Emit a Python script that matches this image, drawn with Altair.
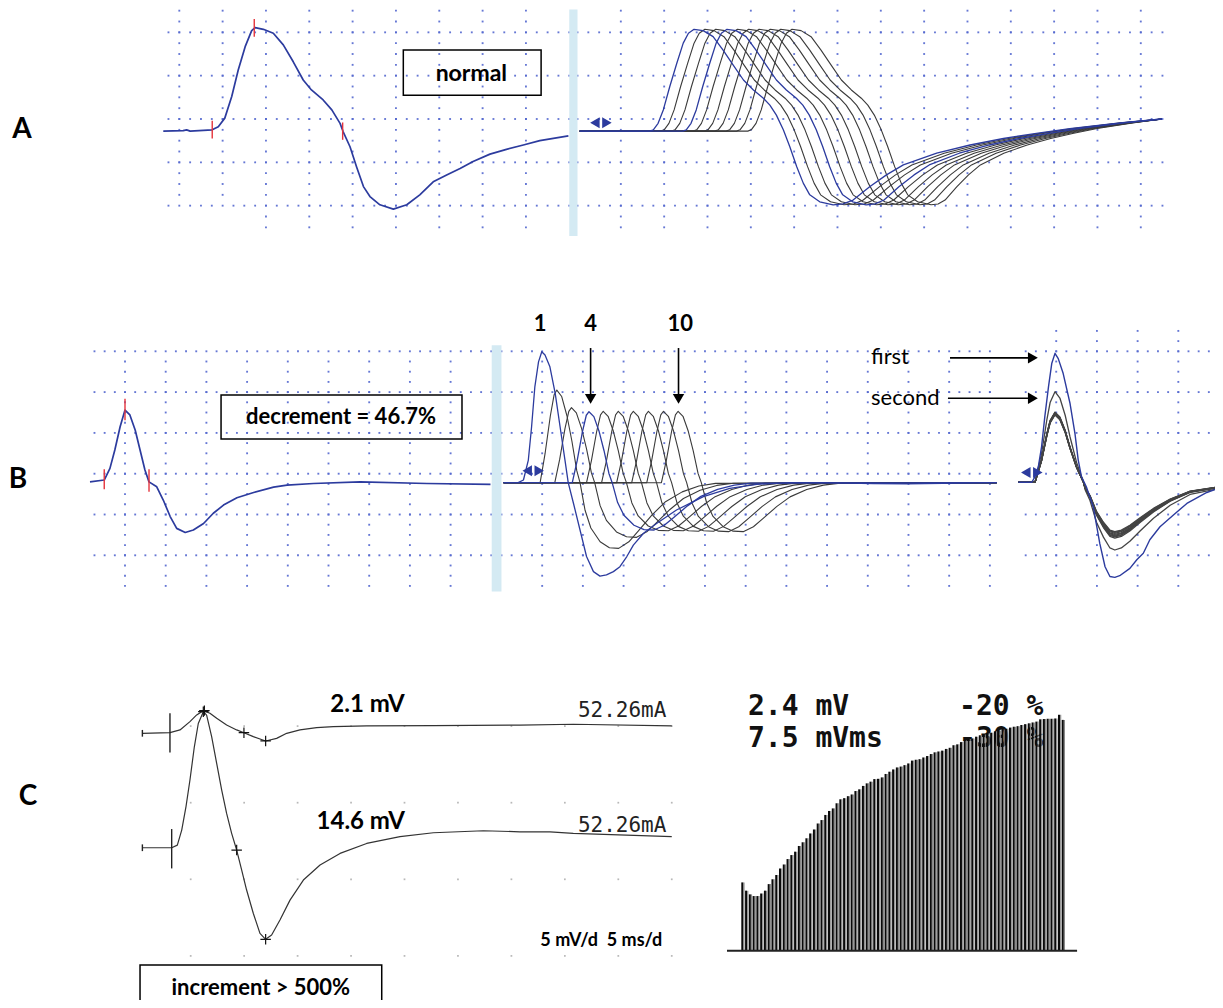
import altair as alt
import numpy as np
import pandas as pd

# ------------------------------------------------------------------
# DATA
# Panels A and B: units are grid divisions (x from the first grid column,
# y from a reference grid row, up = positive).
# Panel C traces: ms and mV (5 ms/div, 5 mV/div); bar train: stimulus no. and mV.
# ------------------------------------------------------------------

# Panel A, "normal" single response (blue)
A_normal_x = [-0.37, 0.09, 0.17, 0.25, 0.76, 0.90, 1.05, 1.21, 1.36, 1.52, 1.67, 1.75, 1.94,
              2.17, 2.40, 2.63, 2.86, 3.05, 3.32, 3.52, 3.71, 3.78, 3.94, 4.09, 4.25, 4.40,
              4.63, 4.94, 5.25, 5.55, 5.86, 6.17, 6.48, 6.78, 7.17, 7.55, 7.94, 8.32, 8.98]
A_normal_y = [-0.28, -0.27, -0.25, -0.28, -0.25, -0.18, 0.02, 0.52, 1.13, 1.67, 2.04, 2.11, 2.07,
              1.98, 1.71, 1.32, 0.90, 0.67, 0.44, 0.21, -0.10, -0.29, -0.64, -1.10, -1.56, -1.79,
              -1.98, -2.08, -1.98, -1.75, -1.45, -1.29, -1.14, -0.98, -0.81, -0.70, -0.60, -0.50, -0.39]
A_ticks_x = [0.76, 1.73, 3.77]
A_ticks_y = [-0.04, 2.31, -0.08]
A_ticks_y2 = [-0.45, 1.90, -0.48]

# Panel A, train of 10 responses (first response shape + latency of each)
A_train_x = [9.24, 10.86, 10.94, 11.05, 11.17, 11.32, 11.48, 11.63, 11.75, 11.88, 12.09, 12.32,
             12.55, 12.78, 13.02, 13.25, 13.48, 13.63, 13.78, 13.94, 14.09, 14.25, 14.40, 14.55,
             14.78, 15.09, 15.32, 15.55, 15.94, 16.32, 16.71, 17.48, 18.25, 19.02, 19.78, 20.55,
             21.71, 22.68]
A_train_y = [-0.28, -0.28, -0.25, -0.10, 0.21, 0.75, 1.28, 1.75, 1.98, 2.07, 2.04, 1.90,
             1.59, 1.25, 0.90, 0.67, 0.48, 0.32, 0.09, -0.25, -0.64, -1.10, -1.48, -1.75,
             -1.91, -1.98, -1.96, -1.87, -1.56, -1.29, -1.06, -0.79, -0.60, -0.45, -0.33, -0.22,
             -0.09, 0.0]
A_train_latency = [0.0, 0.25, 0.50, 0.76, 1.00, 1.26, 1.50, 1.76, 2.00, 2.26]
A_train_trough = 15.09
A_train_end = 22.68
A_train_blue = [0, 3]

# Panel B, single response (blue)
B_single_x = [-0.86, -0.51, -0.37, -0.25, -0.12, 0.0, 0.12, 0.25, 0.37, 0.49, 0.59, 0.78, 0.94,
              1.11, 1.27, 1.48, 1.68, 1.93, 2.17, 2.42, 2.75, 3.16, 3.65, 3.98, 4.63, 5.78, 7.42, 8.98]
B_single_y = [-0.20, -0.155, 0.13, 0.58, 1.15, 1.56, 1.44, 1.07, 0.58, 0.09, -0.20, -0.32, -0.645,
              -1.05, -1.34, -1.44, -1.38, -1.22, -0.97, -0.77, -0.59, -0.46, -0.33, -0.28, -0.24,
              -0.20, -0.24, -0.26]
B_ticks_x = [-0.51, 0.0, 0.59]
B_ticks_y = [0.11, 1.84, 0.11]
B_ticks_y2 = [-0.38, 1.31, -0.44]

# Panel B, decrementing train: response 1 (blue) ...
B_first_x = [9.30, 9.66, 9.79, 9.91, 9.99, 10.07, 10.16, 10.24, 10.32, 10.44, 10.57, 10.69, 10.81,
             10.89, 11.02, 11.18, 11.34, 11.51, 11.67, 11.83, 12.00, 12.16, 12.33, 12.49, 12.74,
             13.06, 13.55, 14.21, 14.86, 15.52, 16.34, 17.16, 18.39, 19.21, 21.42]
B_first_y = [-0.22, -0.22, -0.155, 0.335, 1.15, 2.13, 2.74, 2.99, 2.91, 2.62, 1.97, 1.15, 0.335,
             -0.22, -0.73, -1.38, -2.03, -2.40, -2.51, -2.48, -2.40, -2.28, -2.03, -1.75, -1.46,
             -1.22, -0.89, -0.56, -0.36, -0.26, -0.22, -0.22, -0.24, -0.25, -0.22]
# ... responses 2-10: peak position, peak height, trough delay and trough depth
B_peak_x = [10.61, 10.97, 11.40, 11.75, 12.12, 12.49, 12.86, 13.23, 13.59]
B_peak_amp = [2.27, 1.84, 1.74, 1.75, 1.75, 1.75, 1.75, 1.75, 1.75]
B_trough_dx = [1.52, 1.60, 1.60, 1.60, 1.60, 1.60, 1.60, 1.60, 1.60]
B_trough_depth = [1.61, 1.34, 1.16, 1.18, 1.18, 1.19, 1.19, 1.20, 1.20]
B_blue = [2]  # response 4
B_base = -0.22
# shape of a response (read from response 10)
B_rise_dx = [-0.41, -0.29, -0.16, -0.066, 0.0]
B_rise_f = [0.0, 0.31, 0.72, 0.95, 1.0]
B_fall_dx = [0.12, 0.25, 0.37, 0.49, 0.57]
B_fall_f = [0.93, 0.72, 0.45, 0.13, 0.0]
B_neg_u = [0.13, 0.28, 0.52, 0.76, 1.0]
B_neg_f = [0.42, 0.69, 0.90, 0.99, 1.0]
B_post_dx = [0.25, 0.49, 0.82, 1.15, 1.56, 1.97, 2.38]
B_post_f = [0.90, 0.73, 0.49, 0.29, 0.14, 0.05, 0.01]

# Panel B, superimposed responses: first (blue) and the others
B_sup_first_x = [21.95, 22.28, 22.36, 22.44, 22.52, 22.60, 22.69, 22.77, 22.85, 22.93, 23.05,
                 23.22, 23.34, 23.42, 23.50, 23.62, 23.79, 23.95, 24.08, 24.20, 24.32, 24.44,
                 24.69, 24.86, 25.02, 25.18, 25.43, 25.76, 26.09, 26.58, 26.98]
B_sup_first_y = [-0.21, -0.21, -0.07, 0.17, 0.66, 1.40, 2.13, 2.70, 2.95, 2.82, 2.46,
                 1.72, 0.99, 0.34, -0.07, -0.32, -0.81, -1.71, -2.28, -2.52, -2.54, -2.50,
                 -2.32, -2.11, -1.95, -1.62, -1.30, -1.01, -0.73, -0.46, -0.32]
B_sup_x = [21.95, 22.36, 22.40, 22.52, 22.65, 22.73, 22.85, 22.97, 23.10, 23.22, 23.38, 23.55,
           23.59, 23.71, 23.87, 24.04, 24.20, 24.32, 24.48, 24.69, 24.94, 25.27, 25.68, 26.17, 26.98]
B_sup_f = [0, 0, 0.08, 0.32, 0.69, 0.88, 1.0, 0.93, 0.74, 0.50, 0.22, 0.0,
           -0.11, -0.27, -0.59, -0.81, -0.97, -1.0, -0.97, -0.87, -0.72, -0.53, -0.34, -0.18, -0.08]
B_sup_amp = [2.22, 1.72, 1.71, 1.70, 1.69, 1.68, 1.67, 1.66, 1.65]
B_sup_depth = [1.66, 1.37, 1.34, 1.32, 1.30, 1.28, 1.25, 1.23, 1.21]
B_sup_base = -0.21

# Panel C, two responses (ms, mV relative to each trace's baseline)
C_low_t = [0.48, 3.06, 4.00, 4.93, 5.56, 6.18, 6.80, 7.43, 8.36, 9.30, 9.98, 10.86, 12.01,
           13.04, 13.98, 15.22, 16.78, 18.34, 21.46, 27.70, 35.80, 40.79, 50.0]
C_low_v = [0, 0.04, 0.22, 0.76, 1.20, 1.48, 1.31, 0.98, 0.54, 0.22, 0.04, -0.22, -0.50,
           -0.33, 0, 0.22, 0.37, 0.44, 0.48, 0.50, 0.54, 0.59, 0.48]
C_high_t = [0.48, 3.22, 3.75, 4.16, 4.56, 4.93, 5.34, 5.71, 6.18, 6.49, 6.96, 7.43, 7.90, 8.36,
            8.83, 9.30, 9.77, 10.23, 10.86, 11.48, 12.01, 12.57, 13.35, 14.29, 15.54, 17.10,
            18.97, 21.46, 24.58, 27.70, 32.38, 35.80, 38.61, 40.79, 50.0]
C_high_v = [0, 0, 0.17, 1.15, 2.68, 4.42, 6.59, 8.11, 8.88, 8.66, 7.25, 5.50, 3.76, 2.24,
            0.94, -0.15, -1.46, -2.76, -4.29, -5.59, -5.98, -5.70, -4.72, -3.42, -2.11, -1.13,
            -0.37, 0.28, 0.72, 0.98, 1.11, 1.04, 1.04, 0.94, 0.72]
C_low_stim_t, C_high_stim_t = 3.06, 3.22
C_low_marks_t = [6.28, 9.98, 12.01]
C_low_marks_v = [1.48, 0.04, -0.50]
C_high_marks_t = [6.18, 9.30, 12.01]
C_high_marks_v = [8.88, -0.15, -5.98]

# Panel C, amplitude of each response of the train (mV)
C_train_mv = [2.40, 2.11, 1.98, 1.92, 1.92, 2.01, 2.11, 2.34, 2.51, 2.66, 2.89, 3.03, 3.22, 3.36,
              3.48, 3.68, 3.81, 3.95, 4.12, 4.26, 4.47, 4.59, 4.77, 4.91, 5.00, 5.18, 5.32, 5.36,
              5.43, 5.49, 5.61, 5.67, 5.79, 5.88, 5.94, 6.03, 6.04, 6.09, 6.21, 6.29, 6.37, 6.44,
              6.47, 6.52, 6.58, 6.68, 6.71, 6.73, 6.79, 6.84, 6.91, 6.97, 7.00, 7.03, 7.09, 7.13,
              7.22, 7.25, 7.33, 7.39, 7.44, 7.46, 7.52, 7.57, 7.60, 7.64, 7.66, 7.71, 7.74, 7.77,
              7.80, 7.84, 7.87, 7.89, 7.93, 7.96, 7.99, 8.02, 8.05, 8.13, 8.14, 8.15, 8.15, 8.16,
              8.29, 8.11]

# ------------------------------------------------------------------
# LAYOUT / STYLE
# ------------------------------------------------------------------
W, H = 1207, 992
PAGE_L, PAGE_T = 8, 8
# panel placement: page pixel of the unit origin and pixels per unit
GEOM = {
    "A": dict(x0=179.3, sx=43.33, y0=119.0, sy=43.33),
    "B": dict(x0=125.0, sx=40.7, y0=473.7, sy=40.8),
    "C": dict(x0=137.25, sx=10.69, y0=802.7, sy=15.32),
    "D": dict(x0=742.3, sx=3.77, y0=950.7, sy=28.46),
}
C_low_offset, C_high_offset = 4.53, -2.94

SANS = "Lato"
MONO = "DejaVu Sans Mono"
BLUE = "#2c3b9e"
GRAY = "#3a3a3a"
DOT = "#5468cf"
RED = "#e5343c"
LIGHT = "#d4eaf3"


def scales(p):
    g = GEOM[p]
    xd = [(PAGE_L - g["x0"]) / g["sx"], (PAGE_L + W - g["x0"]) / g["sx"]]
    yd = [(g["y0"] - (PAGE_T + H)) / g["sy"], (g["y0"] - PAGE_T) / g["sy"]]
    return (alt.Scale(domain=xd, nice=False, zero=False),
            alt.Scale(domain=yd, nice=False, zero=False))


layers = []


def add(p, df, mk, **extra):
    xs, ys = scales(p)
    enc = dict(x=alt.X("x:Q", scale=xs, axis=None), y=alt.Y("y:Q", scale=ys, axis=None))
    enc.update(extra)
    layers.append(mk(alt.Chart(df)).encode(**enc))


def lines_df(traces):
    rows = []
    for tid, (xs, ys) in enumerate(traces):
        for i, (x, y) in enumerate(zip(xs, ys)):
            rows.append(dict(x=x, y=y, tid=tid, i=i))
    return pd.DataFrame(rows)


def add_lines(p, traces, color, width):
    add(p, lines_df(traces), lambda c: c.mark_line(color=color, strokeWidth=width,
                                                   strokeJoin="round"),
        detail="tid:N", order="i:Q")


def grid_df(row_specs, col_specs, step=0.25):
    pts = []
    for r, a, b in row_specs:
        for x in np.arange(a, b + 1e-6, step):
            pts.append((x, r))
    for c, a, b in col_specs:
        for y in np.arange(b, a + 1e-6, step):
            pts.append((c, y))
    return pd.DataFrame(pts, columns=["x", "y"])


# ---------------- grids ----------------
gA_rows = [(r, -0.25, 9.0) for r in [2, 1, 0, -1, -2]] + \
          [(r, 9.19, 22.69) for r in [2, 1, 0, -1, -2]]
gA_cols = [(c, 2.5, -1.75 if c < 2 else -2.5) for c in range(9)] + \
          [(10.19 + k, 2.5, -2.5) for k in range(13)]
add("A", grid_df(gA_rows, gA_cols), lambda c: c.mark_square(size=3.5, color=DOT, opacity=0.9))

gB_rows = [(r, -0.75, 9.0) for r in [3, 2, 1, 0, -1, -2]] + \
          [(r, 9.25, 21.25) for r in [3, 2, 1, 0, -1, -2]] + \
          [(r, 22.13, 27.13) for r in [3, 2, 1, 0, -1, -2]]
gB_cols = [(c, 2.75, -2.75) for c in range(9)] + \
          [(10.25 + k, 2.75, -2.75) for k in range(12)] + \
          [(22.88 + k, 3.5, -2.75) for k in range(5)]
add("B", grid_df(gB_rows, gB_cols), lambda c: c.mark_square(size=3.5, color=DOT, opacity=0.9))

gC = pd.DataFrame([(t, v) for t in range(5, 51, 5) for v in [5, 0, -5, -10]], columns=["x", "y"])
add("C", gC, lambda c: c.mark_square(size=3, color="#9a9a9a"))

# ---------------- separating bars ----------------
add("A", pd.DataFrame(dict(x=[9.0], x2=[9.19], y=[2.53], y2=[-2.70])),
    lambda c: c.mark_rect(color=LIGHT), x2="x2:Q", y2="y2:Q")
add("B", pd.DataFrame(dict(x=[9.01], x2=[9.25], y=[3.15], y2=[-2.89])),
    lambda c: c.mark_rect(color=LIGHT), x2="x2:Q", y2="y2:Q")

# ---------------- panel A traces ----------------
add_lines("A", [(A_normal_x, A_normal_y)], BLUE, 1.7)


def train_A(k):
    lat = A_train_latency[k]
    xs = []
    for j, x in enumerate(A_train_x):
        if j == 0:
            xs.append(x)
        elif x <= A_train_trough:
            xs.append(x + lat)
        else:
            xs.append(x + lat * (A_train_end - x) / (A_train_end - A_train_trough))
    return xs, A_train_y


add_lines("A", [train_A(k) for k in range(10) if k not in A_train_blue], GRAY, 1.1)
add_lines("A", [train_A(k) for k in A_train_blue], BLUE, 1.3)

add("A", pd.DataFrame(dict(x=A_ticks_x, y=A_ticks_y, y2=A_ticks_y2)),
    lambda c: c.mark_rule(color=RED, strokeWidth=1.4), y2="y2:Q")

# ---------------- panel B traces ----------------
add_lines("B", [(B_single_x, B_single_y)], BLUE, 1.7)


def train_B(k):
    pk, amp, T, dep = B_peak_x[k], B_peak_amp[k], B_trough_dx[k], B_trough_depth[k]
    pts = [(B_first_x[0], B_base)]
    for dx, f in zip(B_rise_dx + B_fall_dx, B_rise_f + B_fall_f):
        pts.append((pk + dx, B_base + amp * f))
    cross = pk + B_fall_dx[-1]
    for u, f in zip(B_neg_u, B_neg_f):
        pts.append((cross + u * (pk + T - cross), B_base - dep * f))
    for dx, f in zip(B_post_dx, B_post_f):
        pts.append((pk + T + dx, B_base - dep * f))
    pts.append((B_first_x[-1], B_base))
    return [p[0] for p in pts], [p[1] for p in pts]


def sup_B(k):
    a, d = B_sup_amp[k], B_sup_depth[k]
    return B_sup_x, [B_sup_base + (f * a if f > 0 else f * d) for f in B_sup_f]


add_lines("B", [train_B(k) for k in range(9) if k not in B_blue], GRAY, 1.1)
add_lines("B", [(B_first_x, B_first_y)] + [train_B(k) for k in B_blue], BLUE, 1.3)
add_lines("B", [sup_B(k) for k in range(9)], "#444444", 1.3)
add_lines("B", [(B_sup_first_x, B_sup_first_y)], BLUE, 1.4)

add("B", pd.DataFrame(dict(x=B_ticks_x, y=B_ticks_y, y2=B_ticks_y2)),
    lambda c: c.mark_rule(color=RED, strokeWidth=1.4), y2="y2:Q")

# double-arrow cursors
for p, cx, cy in [("A", 9.73, -0.085), ("B", 10.03, 0.07), ("B", 22.28, 0.03)]:
    d = pd.DataFrame(dict(x=[cx], y=[cy]))
    add(p, d, lambda c: c.mark_point(shape="triangle-left", size=120, filled=True,
                                     color=BLUE, opacity=1, xOffset=-6))
    add(p, d, lambda c: c.mark_point(shape="triangle-right", size=120, filled=True,
                                     color=BLUE, opacity=1, xOffset=6))

# ---------------- boxes ----------------
boxA = pd.DataFrame(dict(x=[5.17], x2=[8.35], y=[1.59], y2=[0.55]))
add("A", boxA, lambda c: c.mark_rect(fillOpacity=0, stroke="black", strokeWidth=1.5),
    x2="x2:Q", y2="y2:Q")
boxB = pd.DataFrame(dict(x=[2.36], x2=[8.28], y=[1.93], y2=[0.85]))
add("B", boxB, lambda c: c.mark_rect(fillOpacity=0, stroke="black", strokeWidth=1.5),
    x2="x2:Q", y2="y2:Q")
boxC = pd.DataFrame(dict(x=[0.26], x2=[22.87], y=[-10.59], y2=[-13.8]))
add("C", boxC, lambda c: c.mark_rect(fillOpacity=0, stroke="black", strokeWidth=1.5),
    x2="x2:Q", y2="y2:Q")

# ---------------- arrows in panel B ----------------
add("B", pd.DataFrame(dict(x=[11.44, 13.60], y=[3.08, 3.08], y2=[1.9, 1.9])),
    lambda c: c.mark_rule(color="black", strokeWidth=1.6), y2="y2:Q")
add("B", pd.DataFrame(dict(x=[11.44, 13.60], y=[1.71, 1.71])),
    lambda c: c.mark_point(shape="triangle-down", size=130, filled=True, color="black",
                           opacity=1, yOffset=-5))
add("B", pd.DataFrame(dict(x=[20.27, 20.22], x2=[22.2, 22.2], y=[2.84, 1.85])),
    lambda c: c.mark_rule(color="black", strokeWidth=1.6), x2="x2:Q")
add("B", pd.DataFrame(dict(x=[22.43, 22.43], y=[2.84, 1.85])),
    lambda c: c.mark_point(shape="triangle-right", size=130, filled=True, color="black",
                           opacity=1, xOffset=-5))

# ---------------- panel C traces ----------------
add_lines("C", [(C_low_t, [v + C_low_offset for v in C_low_v]),
                (C_high_t, [v + C_high_offset for v in C_high_v])], "#333333", 1.2)
stim = pd.DataFrame(dict(x=[C_low_stim_t, C_high_stim_t, C_low_t[0], C_high_t[0]],
                         y=[C_low_offset + 1.31, C_high_offset + 1.22,
                            C_low_offset + 0.22, C_high_offset + 0.22],
                         y2=[C_low_offset - 1.26, C_high_offset - 1.35,
                             C_low_offset - 0.22, C_high_offset - 0.22]))
add("C", stim, lambda c: c.mark_rule(color="#222222", strokeWidth=1.4), y2="y2:Q")
crosses = pd.DataFrame(dict(x=C_low_marks_t + C_high_marks_t,
                            y=[v + C_low_offset for v in C_low_marks_v] +
                              [v + C_high_offset for v in C_high_marks_v]))
add("C", crosses, lambda c: c.mark_point(shape="M-1,0L1,0M0,-1L0,1", size=110, filled=False,
                                         color="#111111", strokeWidth=1.2, opacity=1))

# ---------------- texts ----------------
def add_text(p, items, **style):
    df = pd.DataFrame(items, columns=["x", "y", "t"])
    add(p, df, lambda c: c.mark_text(baseline="middle", **style), text="t:N")


NB = "\u00a0"
add_text("A", [(-3.63, -0.25, "A")], font=SANS, fontSize=28, fontWeight="bold", align="center")
add_text("A", [(6.74, 1.05, "normal")], font=SANS, fontSize=23, fontWeight="bold", align="center")
add_text("B", [(-2.63, -0.15, "B")], font=SANS, fontSize=28, fontWeight="bold", align="center")
add_text("B", [(5.31, 1.38, "decrement = 46.7%")], font=SANS, fontSize=22, fontWeight="bold",
         align="center")
add_text("B", [(10.2, 3.67, "1"), (11.44, 3.67, "4"), (13.64, 3.67, "10")], font=SANS,
         fontSize=22, fontWeight="bold", align="center")
add_text("B", [(18.33, 2.86, "first"), (18.33, 1.86, "second")], font=SANS, fontSize=22,
         align="left")
add_text("C", [(-10.22, 0.37, "C")], font=SANS, fontSize=28, fontWeight="bold", align="center")
add_text("C", [(21.54, 6.38, "2.1 mV"), (20.91, -1.24, "14.6 mV")], font=SANS, fontSize=24,
         fontWeight="bold", align="center")
add_text("C", [(49.5, 6.0, "52.26mA"), (49.5, -1.5, "52.26mA")], font=MONO, fontSize=21,
         align="right", color="#222222")
add_text("C", [(43.41, -9.03, "5 mV/d" + NB + NB + "5 ms/d")], font=SANS, fontSize=18,
         fontWeight="bold", align="center")
add_text("C", [(11.56, -12.11, "increment > 500%")], font=SANS, fontSize=22, fontWeight="bold",
         align="center")
add_text("D", [(1.5, 8.56, "2.4 mV"), (1.5, 7.44, "7.5 mVms"), (57.5, 8.56, "-20 %"),
               (57.5, 7.44, "-30 %")], font=MONO, fontSize=28, fontWeight="bold",
         align="left", color="#111111")

# ---------------- bar train ----------------
bars = pd.DataFrame(dict(x=list(range(len(C_train_mv))), y=[0.0] * len(C_train_mv),
                         y2=C_train_mv))
add("D", bars, lambda c: c.mark_rule(color="#8a8a8a", strokeWidth=1.1, xOffset=1.7), y2="y2:Q")
add("D", bars, lambda c: c.mark_rule(color="#0a0a0a", strokeWidth=2.0), y2="y2:Q")
add("D", pd.DataFrame(dict(x=[-4.06], x2=[88.8], y=[0.0])),
    lambda c: c.mark_rule(color="#222222", strokeWidth=2), x2="x2:Q")

chart = alt.layer(*layers).resolve_scale(x="independent", y="independent").properties(
    width=W, height=H, padding=0, autosize=alt.AutoSizeParams(type="none"),
    background="white",
).configure_view(strokeWidth=0)

chart.save("out.html", embed_options={"renderer": "svg", "actions": False})
